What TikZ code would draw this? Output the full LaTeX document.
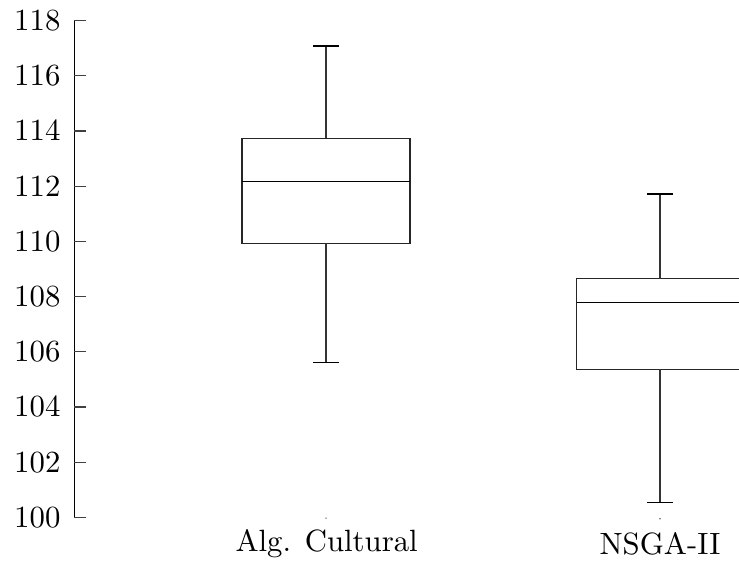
\documentclass[tikz,border=0pt]{standalone}
\usepackage{tikz}
\usetikzlibrary{positioning}
\begin{document}
\begin{tikzpicture}[x=0.325pt, y=8.97pt, line width=0.4pt,
	bx/.style={draw=black!85},
	whisk/.style={draw=black!80},
	tlbl/.style={inner sep=0pt,anchor=east},
	cat/.style={inner sep=0pt,anchor=base}]
\useasboundingbox (0,98.348) rectangle (739,118.746);
\clip (0,98.348) rectangle (739,118.746);
% axis
\coordinate (top) at (74.5,118);
\coordinate (org) at (74.5,100);
\draw (top) -- (org);
\foreach \v in {100,102,...,118}{
  \draw[black!75] (74.5,\v) -- (86,\v);
  \node[tlbl] at (61,\v) {$\v$};
}
% Alg. Cultural
\coordinate (q1a) at (242,109.93);
\coordinate (q3a) at (410,113.74);
\coordinate (hia) at (326,117.08);
\coordinate (loa) at (326,105.62);
\draw[bx] (q1a) rectangle (q3a);
\draw (242,112.16) -- (410,112.16);
\draw[whisk] (hia |- q3a) -- (hia);
\draw[whisk] (hia |- q1a) -- (loa);
\draw (313.3,117.08) -- (338.7,117.08);
\draw (313.3,105.62) -- (338.7,105.62);
% NSGA-II
\coordinate (q1b) at (576.7,105.37);
\coordinate (q3b) at (743.3,108.65);
\coordinate (hib) at (660,111.72);
\coordinate (lob) at (660,100.55);
\draw[bx] (q1b) rectangle (q3b);
\draw (576.7,107.79) -- (743.3,107.79);
\draw[whisk] (hib |- q3b) -- (hib);
\draw[whisk] (hib |- q1b) -- (lob);
\draw (647.3,111.72) -- (672.7,111.72);
\draw (647.3,100.55) -- (672.7,100.55);
% categories
\fill[black!60] (326,99.97) circle (0.25pt);
\fill[black!60] (660,99.95) circle (0.25pt);
\node[cat] (alg) at (326.7,98.746) {Alg. Cultural};
\node[cat] (nsga) at (660,98.638) {NSGA-II};
\end{tikzpicture}
\end{document}
